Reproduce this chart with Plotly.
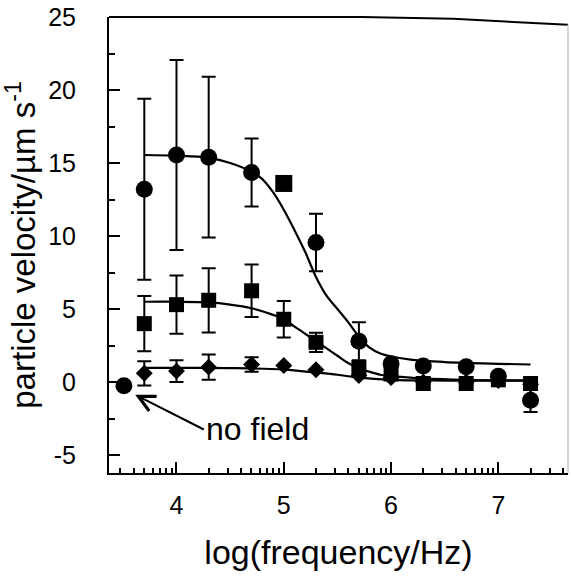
import numpy as np
import plotly.graph_objects as go

# ---- data ----
freq_log = [3.7, 4.0, 4.3, 4.7, 5.0, 5.3, 5.7, 6.0, 6.3, 6.7, 7.0, 7.3]

circle_v = [13.2, 15.55, 15.4, 14.35, 13.6, 9.55, 2.8, 1.25, 1.1, 1.05, 0.4, -1.25]
circle_e = [6.2, 6.5, 5.5, 2.33, 0.0, 1.97, 1.3, 0.0, 0.0, 0.0, 0.0, 0.8]
circle_sym = ["circle", "circle", "circle", "circle", "square", "circle",
              "circle", "circle", "circle", "circle", "circle", "circle"]

square_v = [4.0, 5.3, 5.6, 6.25, 4.3, 2.72, 1.0, 0.55, -0.1, -0.1, 0.15, -0.1]
square_e = [1.9, 2.0, 2.2, 1.8, 1.25, 0.66, 0.0, 0.0, 0.0, 0.0, 0.0, 0.0]

diamond_v = [0.6, 0.75, 1.02, 1.2, 1.13, 0.84, 0.45, 0.3, 0.0, 0.0, 0.1, -0.15]
diamond_e = [0.83, 0.75, 0.87, 0.5, 0.0, 0.0, 0.0, 0.0, 0.0, 0.0, 0.0, 0.0]

nofield_x = [3.51]
nofield_v = [-0.25]

fit_c_x = [3.7, 4.0, 4.3, 4.5, 4.7, 4.8, 4.9, 5.0, 5.1, 5.2, 5.3, 5.4, 5.5, 5.6,
           5.7, 5.8, 5.9, 6.0, 6.2, 6.5, 7.0, 7.3]
fit_c_y = [15.55, 15.5, 15.35, 15.0, 14.4, 13.9, 13.0, 11.8, 10.4, 8.9, 7.2, 5.9,
           5.0, 4.1, 3.1, 2.35, 1.95, 1.75, 1.52, 1.37, 1.25, 1.2]

fit_s_x = [3.7, 4.0, 4.3, 4.5, 4.7, 4.9, 5.0, 5.1, 5.2, 5.3, 5.4, 5.5, 5.6, 5.7,
           5.8, 5.9, 6.0, 6.3, 6.7, 7.3]
fit_s_y = [5.5, 5.5, 5.45, 5.3, 5.05, 4.6, 4.3, 3.8, 3.3, 2.8, 2.3, 1.8, 1.3, 0.95,
           0.7, 0.5, 0.4, 0.25, 0.15, 0.1]

fit_d_x = [3.7, 4.0, 4.5, 4.7, 5.0, 5.3, 5.5, 5.7, 6.0, 6.5, 7.3]
fit_d_y = [0.97, 0.97, 0.95, 0.93, 0.85, 0.65, 0.5, 0.3, 0.15, 0.1, 0.1]

x_ticks = [4, 5, 6, 7]
y_ticks = [-5, 0, 5, 10, 15, 20, 25]

FONT = "Arial, Liberation Sans, sans-serif"

fig = go.Figure()

line_style = dict(color="black", width=2.2)
for fx, fy in [(fit_c_x, fit_c_y), (fit_s_x, fit_s_y), (fit_d_x, fit_d_y)]:
    fig.add_trace(go.Scatter(x=fx, y=fy, mode="lines", line=line_style,
                             line_shape="spline", hoverinfo="skip"))

def err(e):
    return dict(type="data", array=e, visible=True, color="black",
                thickness=2, width=7)

fig.add_trace(go.Scatter(x=freq_log, y=diamond_v, mode="markers",
                         marker=dict(symbol="diamond", size=13, color="black"),
                         error_y=err(diamond_e)))
fig.add_trace(go.Scatter(x=freq_log, y=square_v, mode="markers",
                         marker=dict(symbol="square", size=15, color="black"),
                         error_y=err(square_e)))
fig.add_trace(go.Scatter(x=freq_log, y=circle_v, mode="markers",
                         marker=dict(symbol=circle_sym, size=17, color="black"),
                         error_y=err(circle_e)))
fig.add_trace(go.Scatter(x=nofield_x, y=nofield_v, mode="markers",
                         marker=dict(symbol="circle", size=17, color="black")))

# log-style minor ticks within each decade
minor_x = [d + np.log10(k) for d in range(3, 8) for k in range(2, 10)]
minor_x = [float(v) for v in minor_x if 3.371 < v < 7.649]

fig.update_layout(
    width=571, height=582,
    margin=dict(l=109, r=3, t=15, b=109),
    paper_bgcolor="white", plot_bgcolor="white",
    showlegend=False,
    font=dict(family=FONT, color="black"),
    xaxis=dict(
        range=[3.371, 7.649], tickmode="array", tickvals=x_ticks,
        ticktext=[str(t) for t in x_ticks],
        ticks="inside", ticklen=11, tickwidth=2, tickcolor="black",
        showline=True, linecolor="black", linewidth=2, mirror=False,
        showgrid=False, zeroline=False,
        tickfont=dict(size=25, family=FONT), ticklabelstandoff=9,
        minor=dict(tickmode="array", tickvals=minor_x, ticks="inside",
                   ticklen=5, tickwidth=1.5, tickcolor="black", showgrid=False),
        title=dict(text="log(frequency/Hz)", font=dict(size=34, family=FONT),
                   standoff=22),
    ),
    yaxis=dict(
        range=[-6.23, 25.0], tickmode="array", tickvals=y_ticks,
        ticktext=[str(t) for t in y_ticks],
        ticks="inside", ticklen=11, tickwidth=2, tickcolor="black",
        showline=True, linecolor="black", linewidth=2, mirror=False,
        showgrid=False, zeroline=False,
        tickfont=dict(size=25, family=FONT), ticklabelstandoff=26,
        minor=dict(dtick=2.5, tick0=0, ticks="inside", ticklen=6,
                   tickwidth=1.5, tickcolor="black", showgrid=False),
        title=dict(text="particle velocity/µm s<sup>-1</sup>",
                   font=dict(size=33, family=FONT), standoff=12),
    ),
    shapes=[
        dict(type="path", xref="paper", yref="paper",
             path="M 0 1 L 0.55 1 L 0.75 0.996 L 1 0.983",
             line=dict(color="black", width=2)),
        dict(type="line", xref="paper", yref="paper", x0=1, x1=1, y0=0, y1=0.983,
             line=dict(color="#c8c8c8", width=1.5)),
    ],
    annotations=[
        dict(x=3.615, y=-0.87, xref="x", yref="y", ax=4.255, ay=-3.25,
             axref="x", ayref="y", text="no field", showarrow=True,
             arrowhead=5, arrowsize=1.6, arrowwidth=2, arrowcolor="black",
             xanchor="left", yanchor="middle",
             font=dict(size=32, family=FONT)),
    ],
)

fig.write_html("out.html")
